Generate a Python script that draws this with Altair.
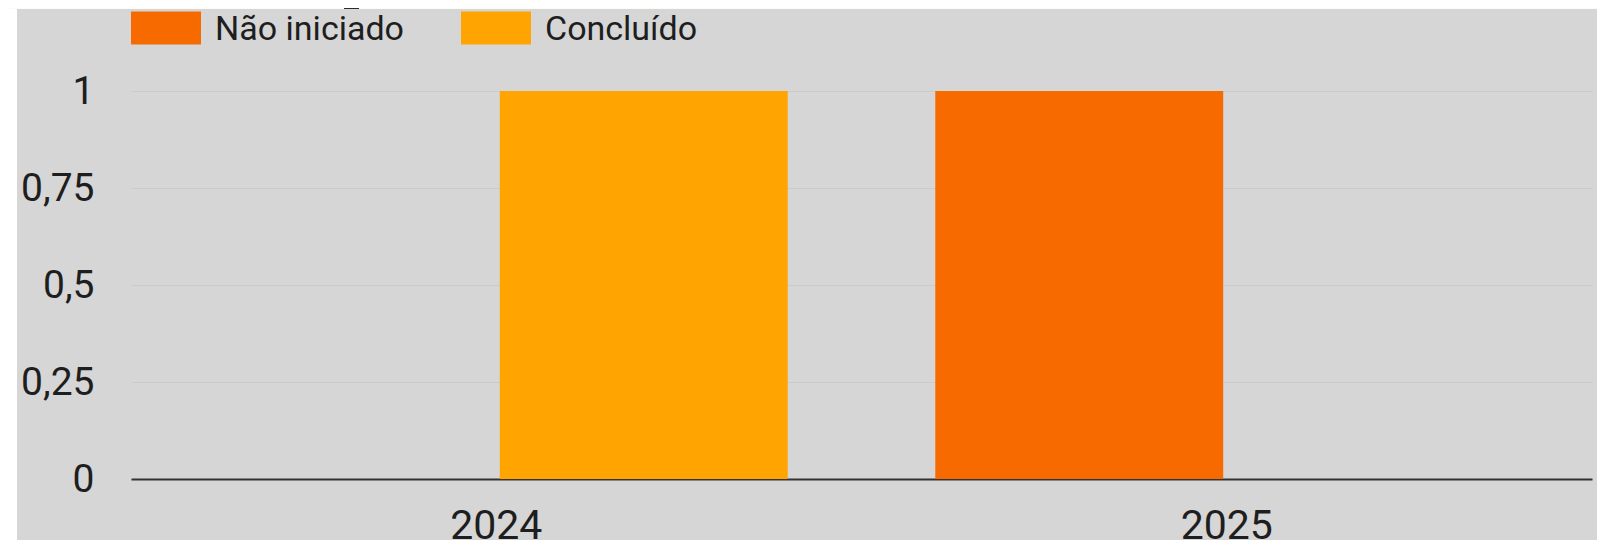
import altair as alt
import pandas as pd

years = ["2024", "2025"]
statuses = ["Não iniciado", "Concluído"]
nao_iniciado = [0, 1]
concluido = [1, 0]
colors = ["#f66a00", "#ffa400"]

rows = []
for i, y in enumerate(years):
    rows.append({"ano": y, "status": statuses[0], "valor": nao_iniciado[i]})
    rows.append({"ano": y, "status": statuses[1], "valor": concluido[i]})
df = pd.DataFrame(rows)

W, H = 1461, 388
PL, PT, PR, PB = 123, 83, 5, 61
FONT = "Roboto"

one = pd.DataFrame({"k": [0]})
white_strip = alt.Chart(one).mark_rect(color="#ffffff").encode(
    x=alt.value(-PL), x2=alt.value(-PL + 9), y=alt.value(-PT), y2=alt.value(H + PB))
cream_band = alt.Chart(one).mark_rect(color="#fffbf4").encode(
    x=alt.value(-PL), x2=alt.value(W + PR), y=alt.value(-PT), y2=alt.value(-PT + 1))
dark_sq = alt.Chart(one).mark_rect(color="#2b2b2b").encode(
    x=alt.value(213), x2=alt.value(228), y=alt.value(-PT), y2=alt.value(-PT + 1))

bars = alt.Chart(df).mark_bar().encode(
    x=alt.X("ano:N", sort=years,
            scale=alt.Scale(paddingInner=0.202, paddingOuter=0.101),
            axis=alt.Axis(title=None, labelAngle=0, ticks=False, domain=True,
                          domainColor="#333333", domainWidth=2,
                          labelFontSize=41, labelFont=FONT, labelColor="#1e1e1e",
                          labelPadding=27, grid=False)),
    xOffset=alt.XOffset("status:N", sort=statuses,
                        scale=alt.Scale(domain=statuses, paddingInner=0.024, paddingOuter=0)),
    y=alt.Y("valor:Q", scale=alt.Scale(domain=[0, 1], nice=False),
            axis=alt.Axis(title=None, values=[0, 0.25, 0.5, 0.75, 1], ticks=False,
                          domain=False, grid=True, gridColor="#cbcbcb", gridWidth=1,
                          labelFontSize=39, labelFont=FONT, labelColor="#1e1e1e",
                          labelPadding=37,
                          labelExpr="replace(toString(datum.value), '.', ',')")),
    color=alt.Color("status:N",
                    scale=alt.Scale(domain=statuses, range=colors),
                    legend=alt.Legend(title=None, orient="none", legendX=0, legendY=-96,
                                      direction="horizontal",
                                      symbolType="M-1,-0.527H1V0.413H-1Z",
                                      symbolSize=4900, symbolStrokeWidth=0,
                                      labelFontSize=34, labelFont=FONT, labelLimit=600,
                                      labelColor="#1e1e1e", labelOffset=14,
                                      columnPadding=56)),
)

chart = alt.layer(white_strip, cream_band, dark_sq, bars).properties(
    width=W, height=H,
    padding={"left": PL, "top": PT, "right": PR, "bottom": PB},
    autosize=alt.AutoSizeParams(type="none"),
    background="#d6d6d6",
).configure_view(stroke=None)

chart.save("out.html", embed_options={"renderer": "svg", "actions": False})
